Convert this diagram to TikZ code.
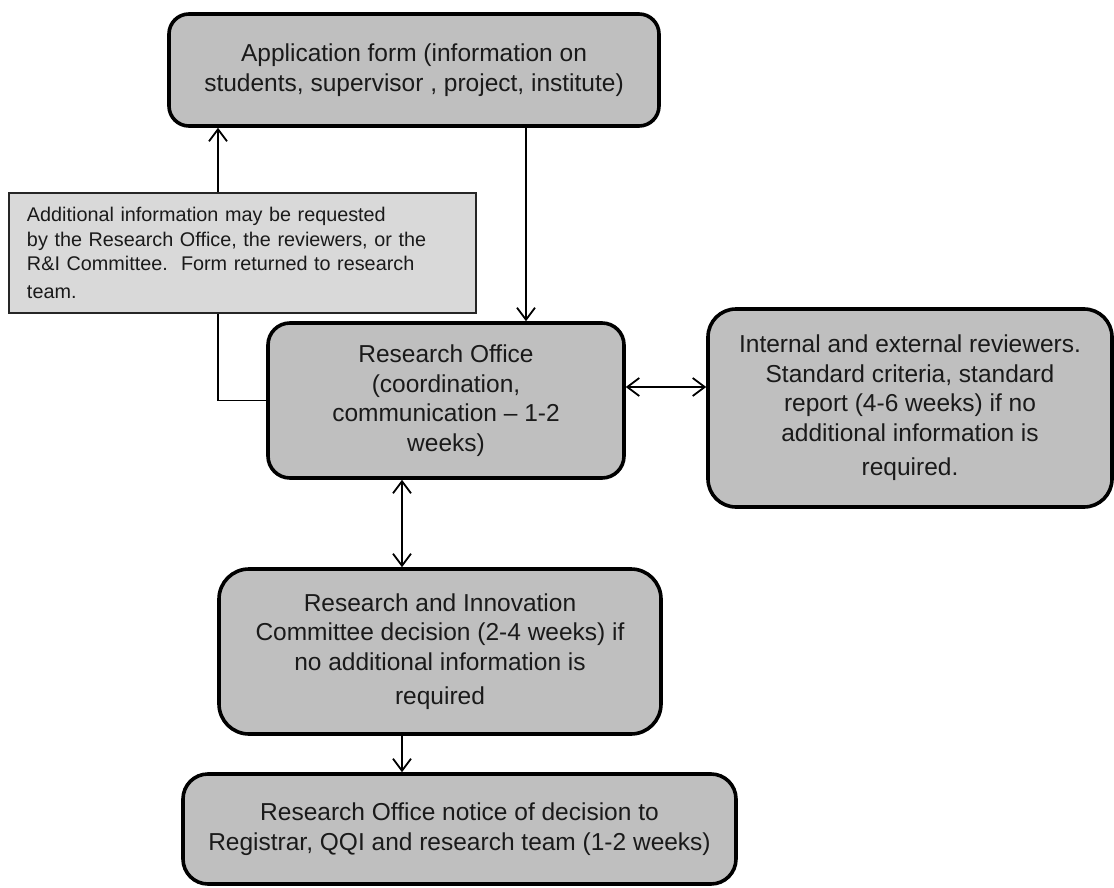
\documentclass[tikz,border=0pt]{standalone}
\usepackage{fontspec}
\setmainfont{Liberation Sans}
\usetikzlibrary{arrows.meta}
\definecolor{boxgray}{HTML}{BFBFBF}
\definecolor{notegray}{HTML}{D9D9D9}
\definecolor{txt}{HTML}{1A1A1A}
\begin{document}
\begin{tikzpicture}[x=1pt,y=-1pt,
  mainbox/.style={draw=black, line width=3.6pt, fill=boxgray, rounded corners=#1,
    align=center, inner sep=0pt, text=txt, font=\fontsize{24.5}{29.5}\selectfont},
  mainbox/.default=22pt,
  notebox/.style={draw=black!85, line width=1.3pt, fill=notegray, align=left,
    inner xsep=18pt, inner ysep=0pt, text=txt, font=\fontsize{19.8}{24.5}\selectfont},
  conn/.style={line width=1.8pt, draw=black},
  arr/.style={conn, -{Straight Barb[length=12pt,width=18pt]}},
  dbl/.style={conn, {Straight Barb[length=12pt,width=18pt]}-{Straight Barb[length=12pt,width=18pt]}}
]
\useasboundingbox (0,0) rectangle (1114,888);

\node[mainbox=20pt, minimum width=490pt, minimum height=112pt] (app) at (414,70)
  {Application form (information on\\students, supervisor , project, institute)};

\node[notebox, text width=431pt, minimum height=120pt] (note) at (242.5,253)
  {Additional information may be requested\\
   by the Research Office, the reviewers, or the\\
   R\&I Committee.\ \ Form returned to research\\[3pt]
   team.};

\node[mainbox=22pt, minimum width=356pt, minimum height=155pt] (ro) at (446,400.5)
  {Research Office\\(coordination,\\communication -- 1-2\\weeks)};

\node[mainbox=28pt, minimum width=404pt, minimum height=198pt] (rev) at (910,408)
  {Internal and external reviewers.\\Standard criteria, standard\\report (4-6 weeks) if no\\additional information is\\[5pt]required.};

\node[mainbox=30pt, minimum width=442pt, minimum height=165pt] (ric) at (440,651.5)
  {Research and Innovation\\Committee decision (2-4 weeks) if\\no additional information is\\[5pt]required};

\node[mainbox=25pt, minimum width=553pt, minimum height=110pt] (notice) at (459.5,829)
  {Research Office notice of decision to\\Registrar, QQI and research team (1-2 weeks)};

\coordinate (vx) at (218,0);
\coordinate (ax) at (526,0);
\coordinate (hy) at (0,387);
\coordinate (bx) at (402,0);

\draw[arr] (note.north -| vx) -- (app.south -| vx);
\draw[conn] (note.south -| vx) |- (ro.west);
\draw[arr] (app.south -| ax) -- (ro.north -| ax);
\draw[dbl] (ro.east |- hy) -- (rev.west |- hy);
\draw[dbl] (ro.south -| bx) -- (ric.north -| bx);
\draw[arr] (ric.south -| bx) -- (notice.north -| bx);
\end{tikzpicture}
\end{document}
